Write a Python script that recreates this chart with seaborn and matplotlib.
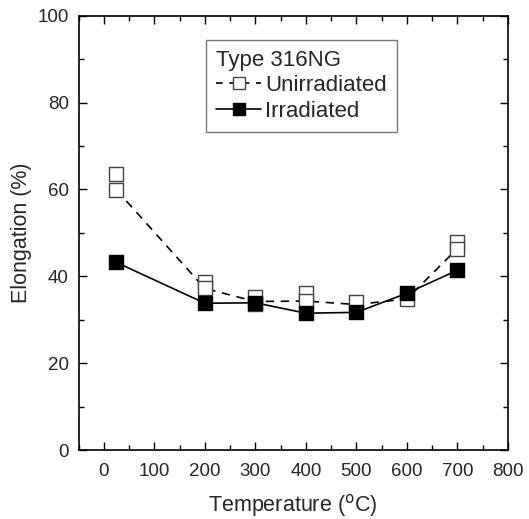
import matplotlib
matplotlib.use("Agg")
import matplotlib.pyplot as plt
import seaborn as sns
import pandas as pd
from matplotlib.lines import Line2D
from matplotlib.ticker import MultipleLocator

# data
unirr_temp = [25, 25, 200, 200, 300, 300, 400, 400, 500, 600, 700, 700]
unirr_elong = [63.6, 59.9, 38.6, 37.2, 35.3, 33.6, 36.1, 34.3, 34.0, 34.8, 47.8, 46.4]
unirr_line_temp = [25, 200, 300, 400, 500, 600, 700]
unirr_line_elong = [59.9, 37.2, 34.2, 34.3, 33.5, 34.8, 46.4]
irr_temp = [25, 200, 300, 400, 500, 600, 700]
irr_elong = [43.2, 33.8, 33.9, 31.5, 31.7, 36.1, 41.4]

sns.set_theme(style="ticks")
plt.rcParams['font.family'] = ['Liberation Sans', 'DejaVu Sans']

fig = plt.figure(figsize=(5.29, 5.19), dpi=100)
ax = fig.add_axes([0.1484, 0.1329, 0.8119, 0.8368])

df_ul = pd.DataFrame({"T": unirr_line_temp, "E": unirr_line_elong})
df_u = pd.DataFrame({"T": unirr_temp, "E": unirr_elong})
df_i = pd.DataFrame({"T": irr_temp, "E": irr_elong})

sns.lineplot(data=df_ul, x="T", y="E", ax=ax, color="black", lw=1.2,
             estimator=None, sort=False, zorder=2)
ax.lines[-1].set_dashes([5, 4])
sns.lineplot(data=df_i, x="T", y="E", ax=ax, color="black", lw=1.2,
             estimator=None, sort=False, zorder=2)
sns.scatterplot(data=df_u, x="T", y="E", ax=ax, marker="s", s=95,
                facecolor="white", edgecolor="#444444", linewidth=1.0, zorder=3)
sns.scatterplot(data=df_i, x="T", y="E", ax=ax, marker="s", s=95,
                color="black", edgecolor="black", linewidth=1.0, zorder=4)

ax.set_xlim(-50, 800)
ax.set_ylim(0, 100)
ax.xaxis.set_major_locator(MultipleLocator(100))
ax.xaxis.set_minor_locator(MultipleLocator(50))
ax.yaxis.set_major_locator(MultipleLocator(20))
ax.yaxis.set_minor_locator(MultipleLocator(10))
ax.tick_params(which="both", direction="in", top=True, right=True, labelsize=13.5,
               color="black", width=1.0)
ax.tick_params(which="major", length=6)
ax.tick_params(which="minor", length=3.5)
ax.tick_params(axis="x", pad=9)
ax.tick_params(axis="y", pad=7)
for s in ax.spines.values():
    s.set_linewidth(1.2)
    s.set_color("black")

ax.set_xlabel("Temperature ($^{\\mathrm{o}}$C)", fontsize=15.5, labelpad=9)
ax.set_ylabel("Elongation (%)", fontsize=15.5, labelpad=4)

handles = [
    Line2D([], [], color="black", lw=1.2, dashes=[4, 4], marker="s", markersize=8,
           markerfacecolor="white", markeredgecolor="#444444"),
    Line2D([], [], color="black", lw=1.2, marker="s", markersize=8,
           markerfacecolor="black", markeredgecolor="black"),
]
leg = ax.legend(handles, ["Unirradiated", "Irradiated"], title="Type 316NG",
                loc="upper left", bbox_to_anchor=(0.298, 0.945), fontsize=16,
                title_fontsize=16, frameon=True, fancybox=False, edgecolor="#555555",
                handlelength=2.0, handletextpad=0.2, borderpad=0.45,
                labelspacing=0.2, borderaxespad=0)
leg._legend_box.align = "left"
leg.get_frame().set_linewidth(1.0)

fig.savefig("out.png", dpi=100)
